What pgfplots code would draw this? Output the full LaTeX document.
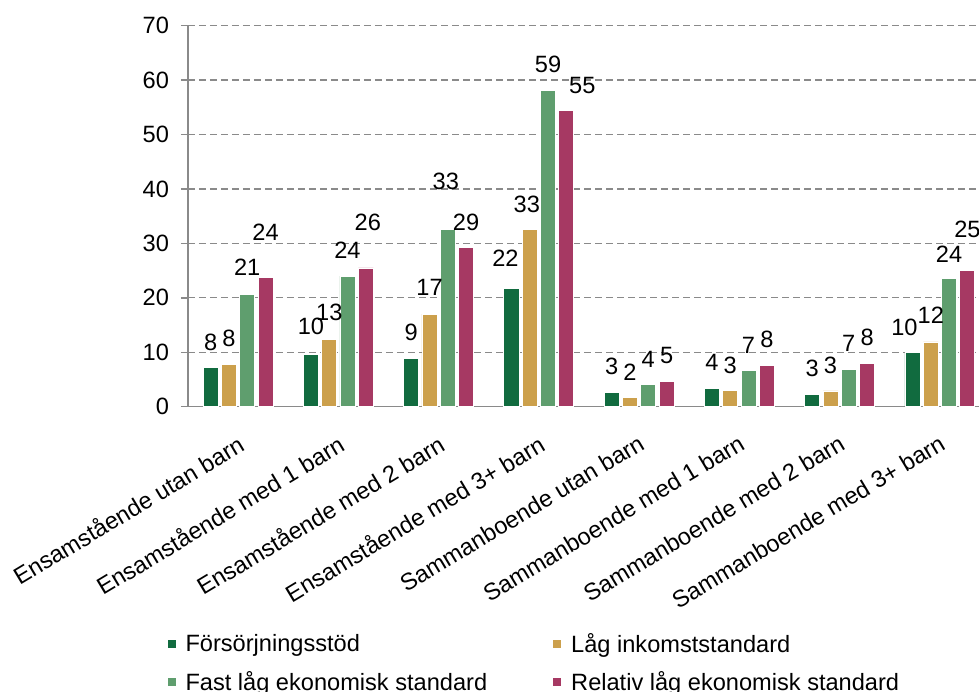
\documentclass[border=0pt]{standalone}
\usepackage{fontspec}
\setmainfont{Liberation Sans}
\usepackage{pgfplots}
\usepackage{pgfplotstable}
\pgfplotsset{compat=1.18}
\definecolor{cF}{HTML}{116B3F}
\definecolor{cL}{HTML}{CCA04C}
\definecolor{cFA}{HTML}{5F9E6E}
\definecolor{cR}{HTML}{A63963}
\definecolor{axgray}{HTML}{8A8A8A}

\pgfplotstableread{
x y lab dx dy
0 7.2 8 0 0
1 9.6 10 0 2.5
2 8.9 9 0 0
3 21.8 22 -6 4
4 2.6 3 0 1
5 3.4 4 0 0
6 2.3 3 0 0
7 9.9 10 -8 0
}\tF
\pgfplotstableread{
x y lab dx dy
0 7.8 8 0 0
1 12.3 13 0 2
2 17.0 17 0 1
3 32.5 33 -3 0
4 1.7 2 0 0
5 3.0 3 0 0
6 2.9 3 0 0
7 11.9 12 0 1
}\tL
\pgfplotstableread{
x y lab dx dy
0 20.7 21 0 1
1 24.0 24 0 0
2 32.6 33 -2 22.5
3 58.1 59 0 1
4 4.1 4 0 0
5 6.6 7 0 0
6 6.9 7 0 0
7 23.5 24 0 -1
}\tFA
\pgfplotstableread{
x y lab dx dy
0 23.7 24 0 19.5
1 25.5 26 2 20
2 29.2 29 0 0
3 54.4 55 16 0
4 4.7 5 0 0
5 7.6 8 0 0
6 8.0 8 0 0
7 25.1 25 0 15
}\tR

\pgfplotsset{lbl/.style={
  forget plot,
  point meta=explicit symbolic,
  nodes near coords,
  visualization depends on={\thisrow{dx}\as\dx},
  visualization depends on={\thisrow{dy}\as\dy},
  every node near coord/.append style={font=\fontsize{11.8}{14}\selectfont, anchor=center, inner sep=0pt,
     xshift={\dx*0.5pt}, yshift={(25.5+\dy)*0.5pt}}}}

\begin{document}
\begin{tikzpicture}
\begin{axis}[name=ax,
  scale only axis, width=395.5pt, height=190.5pt,
  xmin=-0.5, xmax=7.39, ymin=0, ymax=70,
  axis lines*=left,
  axis line style={draw=axgray, line width=0.7pt},
  ytick={0,10,...,70},
  xtick={0,...,7},
  xticklabels={Ensamstående utan barn, Ensamstående med 1 barn, Ensamstående med 2 barn, Ensamstående med 3+ barn, Sammanboende utan barn, Sammanboende med 1 barn, Sammanboende med 2 barn, Sammanboende med 3+ barn},
  ymajorgrids,
  grid style={draw=axgray, line width=0.65pt, dash pattern=on 3.4pt off 2.1pt},
  tick align=outside, major tick length=3.5pt,
  xtick style={draw=none},
  ytick style={draw=axgray, line width=0.7pt},
  /pgf/number format/assume math mode=true,
  tick label style={font=\fontsize{11.8}{14}\selectfont},
  yticklabel style={xshift=-2.5pt},
  xticklabel style={rotate=31, anchor=north east, xshift=-2.5pt, yshift=-4.5pt},
  clip=false,
  ybar, bar width=0.15,
  every axis plot/.append style={draw=white, line width=0.4pt},
  legend columns=2,
  legend cell align=left,
  legend image code/.code={\fill[#1, draw=none] (0pt,-2pt) rectangle (4pt,2pt);},
  legend style={draw=none, fill=none, at={(-0.034,-0.572)}, anchor=north west,
     font=\fontsize{11.8}{14}\selectfont, row sep=4pt,
     /tikz/every odd column/.append style={column sep=3pt},
     /tikz/every even column/.append style={column sep=31pt}},
]
\addplot[fill=cF, bar shift=-0.274, lbl] table[x=x, y=y, meta=lab] {\tF};
\addplot[fill=cL, bar shift=-0.091, lbl] table[x=x, y=y, meta=lab] {\tL};
\addplot[fill=cFA, bar shift=0.091, lbl] table[x=x, y=y, meta=lab] {\tFA};
\addplot[fill=cR, bar shift=0.274, lbl] table[x=x, y=y, meta=lab] {\tR};
\addlegendimage{fill=cF}
\addlegendentry{Försörjningsstöd}
\addlegendimage{fill=cL}
\addlegendentry{Låg inkomststandard}
\addlegendimage{fill=cFA}
\addlegendentry{Fast låg ekonomisk standard}
\addlegendimage{fill=cR}
\addlegendentry{Relativ låg ekonomisk standard}
\end{axis}
\pgfresetboundingbox
\path[use as bounding box] ([shift={(-94pt,-142.15pt)}]ax.south west) rectangle ([shift={(395.5pt,203.35pt)}]ax.south west);
\end{tikzpicture}
\end{document}
